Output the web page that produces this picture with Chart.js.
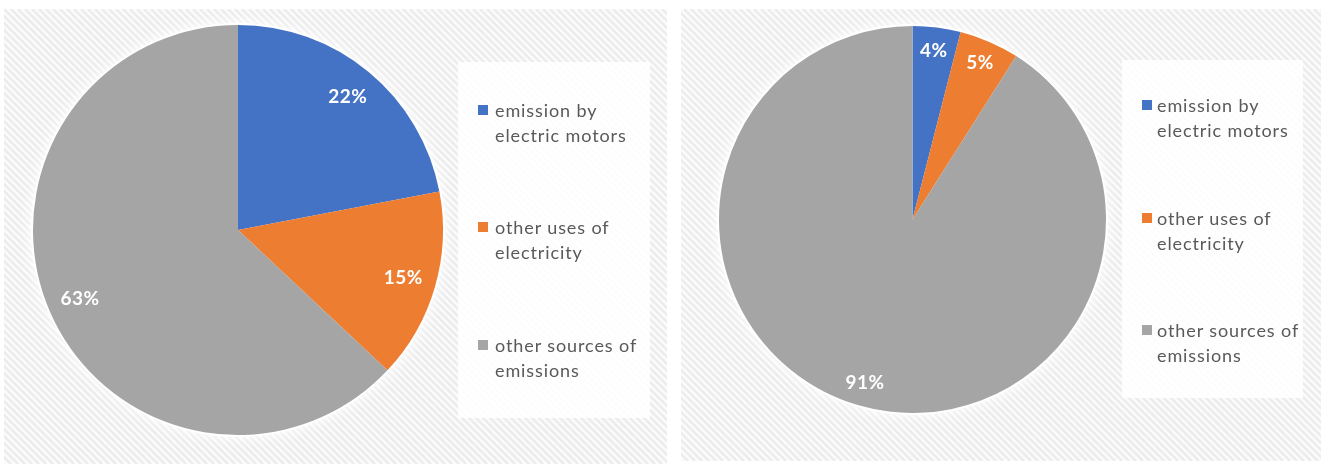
<!DOCTYPE html>
<html>
<head>
<meta charset="utf-8">
<script src="https://cdn.jsdelivr.net/npm/chart.js@4/dist/chart.umd.min.js"></script>
<style>
  body { margin: 0; background: #fff; width: 1321px; height: 464px; position: relative; overflow: hidden; font-family: Lato, "Open Sans", sans-serif; }
  .panel { position: absolute; }
  .legend { position: absolute; background: rgba(255,255,255,0.88); }
  .item { position: absolute; color: #595959; font-size: 18px; line-height: 25px; letter-spacing: 0.9px; white-space: nowrap; }
  .swatch { position: absolute; width: 10px; height: 10px; }
</style>
</head>
<body>
<div class="panel" style="left:4px;top:9px;width:663px;height:455px"><canvas id="leftPie"></canvas></div>
<div class="panel" style="left:681px;top:9px;width:640px;height:452px"><canvas id="rightPie"></canvas></div>
<div class="legend" id="leftLegend" style="left:458px;top:62px;width:192px;height:356px"></div>
<div class="legend" id="rightLegend" style="left:1122px;top:60px;width:181px;height:338px"></div>
<script>
// categories and shares (%) for both pies
var categories = [["emission by", "electric motors"], ["other uses of", "electricity"], ["other sources of", "emissions"]];
var leftValues = [22, 15, 63];
var rightValues = [4, 5, 91];
var sliceColors = ['#4472C4', '#ED7D31', '#A5A5A5'];

// diagonal hatch behind each chart + soft white halo round the pie
var hatchPlugin = {
  id: 'hatch',
  beforeDraw: function (chart) {
    var ctx = chart.ctx, w = chart.width, h = chart.height;
    ctx.save();
    ctx.fillStyle = '#fbfbfb';
    ctx.fillRect(0, 0, w, h);
    ctx.strokeStyle = '#ececec';
    ctx.lineWidth = 2.5;
    ctx.beginPath();
    for (var k = -h; k < w + 7; k += 7) {
      ctx.moveTo(k, 0);
      ctx.lineTo(k + h, h);
    }
    ctx.stroke();
    ctx.restore();
  },
  beforeDatasetsDraw: function (chart) {
    var arc = chart.getDatasetMeta(0).data[0];
    if (!arc) return;
    var ctx = chart.ctx;
    ctx.save();
    ctx.shadowColor = 'rgba(255,255,255,1)';
    ctx.shadowBlur = 14;
    ctx.fillStyle = '#ffffff';
    ctx.beginPath();
    ctx.arc(arc.x, arc.y, arc.outerRadius + 2, 0, Math.PI * 2);
    ctx.fill();
    ctx.restore();
  }
};

// percentage labels inside the slices
var labelPlugin = {
  id: 'sliceLabels',
  afterDatasetsDraw: function (chart, args, opts) {
    var ctx = chart.ctx;
    var values = chart.data.datasets[0].data;
    ctx.save();
    ctx.font = 'bold 19px Lato, "Open Sans", sans-serif';
    ctx.letterSpacing = '0.5px';
    ctx.fillStyle = '#ffffff';
    ctx.textAlign = 'center';
    ctx.textBaseline = 'middle';
    chart.getDatasetMeta(0).data.forEach(function (arc, i) {
      var p = arc.getProps(['x', 'y', 'startAngle', 'endAngle', 'outerRadius'], true);
      var mid = (p.startAngle + p.endAngle) / 2;
      var r = p.outerRadius * opts.ratio;
      ctx.fillText(values[i] + '%', p.x + Math.cos(mid) * r, p.y + Math.sin(mid) * r);
    });
    ctx.restore();
  }
};

function makePie(id, values, padding, ratio) {
  return new Chart(document.getElementById(id), {
    type: 'pie',
    data: {
      labels: categories.map(function (c) { return c.join(' '); }),
      datasets: [{
        data: values,
        backgroundColor: sliceColors,
        borderWidth: 0
      }]
    },
    options: {
      responsive: true,
      maintainAspectRatio: false,
      animation: false,
      layout: { padding: padding },
      plugins: {
        legend: { display: false },
        tooltip: { enabled: false },
        sliceLabels: { ratio: ratio }
      }
    },
    plugins: [hatchPlugin, labelPlugin]
  });
}

makePie('leftPie', leftValues, { left: 29, top: 16, right: 224, bottom: 29 }, 0.84);
makePie('rightPie', rightValues, { left: 38, top: 17, right: 215, bottom: 48 }, 0.88);

// legend: swatch + two-line text per category
function buildLegend(elId, box, swatchX, textX, lineCenters) {
  var el = document.getElementById(elId);
  categories.forEach(function (lines, i) {
    var c = lineCenters[i];
    var sw = document.createElement('div');
    sw.className = 'swatch';
    sw.style.background = sliceColors[i];
    sw.style.left = (swatchX - box.left) + 'px';
    sw.style.top = (c - 5 - box.top) + 'px';
    el.appendChild(sw);
    var tx = document.createElement('div');
    tx.className = 'item';
    tx.style.left = (textX - box.left) + 'px';
    tx.style.top = (c - 12.5 - box.top) + 'px';
    tx.innerHTML = lines.join('<br>');
    el.appendChild(tx);
  });
}
buildLegend('leftLegend', { left: 458, top: 62 }, 478, 495, [110, 227, 345]);
buildLegend('rightLegend', { left: 1122, top: 60 }, 1142, 1157, [105, 218, 330]);
</script>
</body>
</html>
